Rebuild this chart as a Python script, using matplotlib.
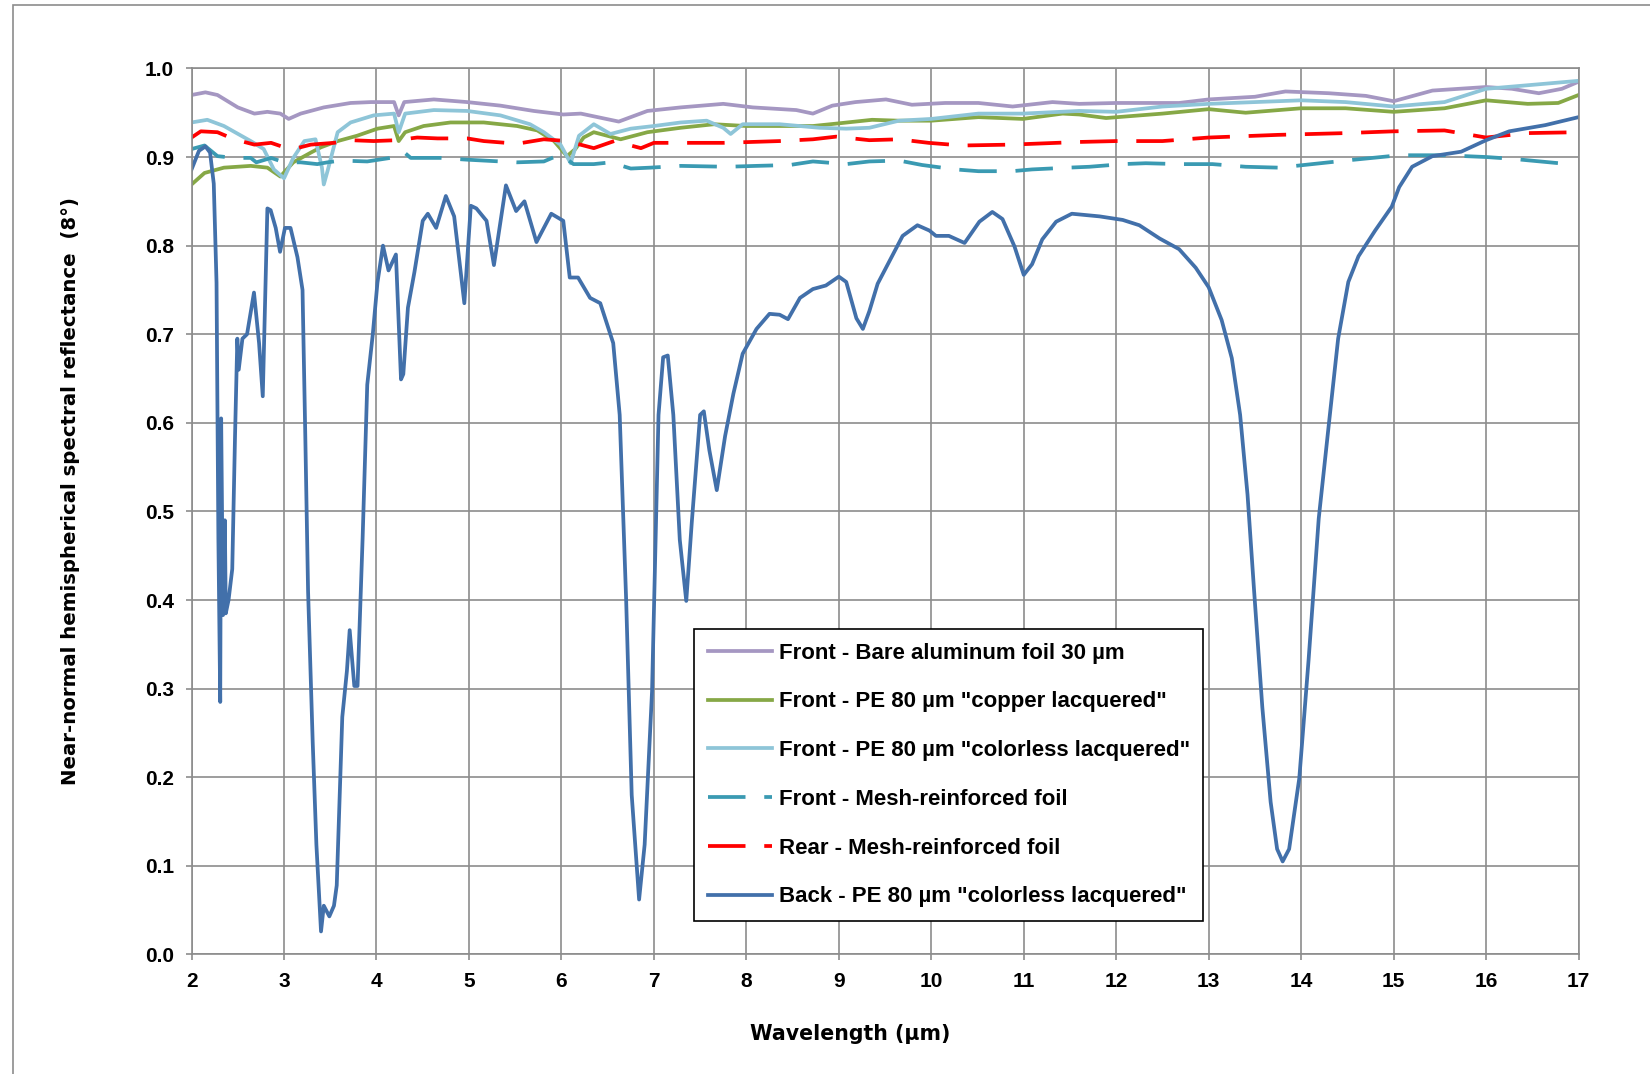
import matplotlib
matplotlib.use('Agg')
import matplotlib.pyplot as plt
from matplotlib.patches import Rectangle

wl_al = [2.0, 2.15, 2.28, 2.5, 2.68, 2.82, 2.96, 3.05, 3.18, 3.43, 3.72, 3.94, 4.19, 4.24, 4.30,
         4.62, 4.98, 5.34, 5.70, 6.02, 6.21, 6.62, 6.93, 7.29, 7.75, 8.07, 8.54, 8.72, 8.93, 9.18,
         9.51, 9.79, 10.15, 10.51, 10.88, 11.31, 11.6, 12.0, 12.68, 13.0, 13.5, 13.83, 14.3,
         14.7, 15.0, 15.42, 16.0, 16.28, 16.57, 16.82, 17.0]
r_al = [0.970, 0.973, 0.970, 0.956, 0.949, 0.951, 0.949, 0.943, 0.949, 0.956, 0.961, 0.962, 0.962,
        0.947, 0.962, 0.965, 0.962, 0.958, 0.952, 0.948, 0.949, 0.940, 0.952, 0.956, 0.960, 0.956,
        0.953, 0.949, 0.958, 0.962, 0.965, 0.959, 0.961, 0.961, 0.957, 0.962, 0.960, 0.961, 0.961,
        0.965, 0.968, 0.974, 0.972, 0.969, 0.963, 0.975, 0.979, 0.977, 0.972, 0.977, 0.985]

wl_cu = [2.0, 2.14, 2.35, 2.64, 2.82, 2.96, 3.1, 3.29, 3.40, 3.58, 3.79, 4.01, 4.19, 4.24, 4.31,
         4.51, 4.8, 5.16, 5.52, 5.74, 5.92, 6.06, 6.15, 6.24, 6.35, 6.64, 6.93, 7.29, 7.65, 8.0,
         8.36, 8.72, 9.0, 9.36, 9.65, 10.0, 10.51, 10.99, 11.42, 11.6, 11.89, 12.5, 13.0, 13.4,
         14.0, 14.48, 15.0, 15.55, 16.0, 16.45, 16.78, 17.0]
r_cu = [0.869, 0.882, 0.888, 0.890, 0.888, 0.878, 0.894, 0.905, 0.911, 0.918, 0.924, 0.932, 0.935,
        0.918, 0.928, 0.935, 0.939, 0.939, 0.935, 0.930, 0.918, 0.901, 0.909, 0.922, 0.928, 0.920,
        0.928, 0.933, 0.937, 0.935, 0.935, 0.935, 0.938, 0.942, 0.941, 0.941, 0.945, 0.943, 0.949,
        0.948, 0.944, 0.949, 0.954, 0.950, 0.955, 0.955, 0.951, 0.955, 0.964, 0.960, 0.961, 0.970]

wl_cl = [2.0, 2.17, 2.35, 2.64, 2.78, 2.89, 3.0, 3.1, 3.22, 3.34, 3.41, 3.43, 3.47, 3.58, 3.72,
         3.97, 4.19, 4.24, 4.31, 4.62, 4.98, 5.34, 5.66, 5.81, 5.99, 6.10, 6.19, 6.24, 6.35, 6.53,
         6.75, 7.0, 7.29, 7.57, 7.75, 7.83, 7.96, 8.36, 8.79, 9.08, 9.33, 9.65, 10.0, 10.51, 10.99,
         11.6, 12.0, 12.5, 13.0, 13.5, 14.0, 14.48, 15.0, 15.55, 16.0, 16.45, 17.0]
r_cl = [0.939, 0.942, 0.935, 0.918, 0.909, 0.886, 0.876, 0.899, 0.918, 0.920, 0.888, 0.869, 0.884,
        0.928, 0.939, 0.947, 0.949, 0.928, 0.949, 0.953, 0.952, 0.947, 0.937, 0.928, 0.914, 0.893,
        0.924, 0.928, 0.937, 0.926, 0.932, 0.935, 0.939, 0.941, 0.933, 0.926, 0.937, 0.937, 0.933,
        0.932, 0.933, 0.941, 0.943, 0.949, 0.949, 0.952, 0.951, 0.957, 0.960, 0.962, 0.964, 0.962,
        0.957, 0.962, 0.977, 0.981, 0.986]

wl_mf = [2.0, 2.14, 2.28, 2.46, 2.64, 2.70, 2.86, 3.0, 3.18, 3.36, 3.47, 3.61, 3.9, 4.15, 4.28,
         4.37, 4.69, 4.98, 5.34, 5.52, 5.81, 5.99, 6.13, 6.35, 6.53, 6.75, 6.96, 7.29, 7.79, 8.11,
         8.47, 8.72, 9.08, 9.33, 9.65, 9.9, 10.26, 10.51, 10.87, 11.09, 11.48, 11.71, 12.07, 12.32,
         12.68, 13.04, 13.4, 13.76, 14.12, 14.48, 14.77, 15.06, 15.55, 16.0, 16.28, 16.89]
r_mf = [0.909, 0.913, 0.901, 0.899, 0.899, 0.894, 0.899, 0.894, 0.894, 0.892, 0.894, 0.896, 0.895,
        0.899, 0.907, 0.899, 0.899, 0.897, 0.895, 0.894, 0.895, 0.903, 0.892, 0.892, 0.894, 0.887,
        0.888, 0.890, 0.889, 0.890, 0.891, 0.895, 0.892, 0.895, 0.896, 0.891, 0.886, 0.884, 0.884,
        0.886, 0.888, 0.889, 0.892, 0.893, 0.892, 0.892, 0.889, 0.888, 0.892, 0.896, 0.899, 0.902,
        0.902, 0.900, 0.898, 0.892]

wl_mr = [2.0, 2.1, 2.28, 2.46, 2.68, 2.86, 3.0, 3.14, 3.29, 3.54, 3.72, 3.97, 4.22, 4.44, 4.66,
         4.98, 5.16, 5.52, 5.81, 6.06, 6.24, 6.35, 6.57, 6.86, 7.0, 7.29, 7.75, 8.36, 8.72, 8.97,
         9.33, 9.65, 9.97, 10.33, 10.87, 11.6, 12.0, 12.5, 13.0, 13.75, 14.48, 15.0, 15.55, 16.0,
         16.45, 17.0]
r_mr = [0.922, 0.929, 0.928, 0.920, 0.914, 0.916, 0.911, 0.910, 0.914, 0.916, 0.919, 0.918, 0.919,
        0.922, 0.921, 0.921, 0.918, 0.915, 0.920, 0.918, 0.913, 0.910, 0.918, 0.910, 0.916, 0.916,
        0.916, 0.918, 0.920, 0.923, 0.919, 0.920, 0.916, 0.913, 0.914, 0.917, 0.918, 0.918, 0.922,
        0.925, 0.927, 0.929, 0.930, 0.922, 0.927, 0.928]

wl_bk = [2.00, 2.08, 2.15, 2.20, 2.24, 2.27, 2.29, 2.31, 2.32, 2.34, 2.36, 2.37, 2.40, 2.44, 2.47,
         2.495, 2.51, 2.55, 2.60, 2.675, 2.73, 2.77, 2.82, 2.855, 2.91, 2.957, 3.01, 3.07, 3.145,
         3.20, 3.23, 3.26, 3.31, 3.35, 3.40, 3.43, 3.49, 3.54, 3.57, 3.63, 3.68, 3.71, 3.76, 3.795,
         3.85, 3.90, 3.96, 4.01, 4.07, 4.13, 4.21, 4.265, 4.29, 4.34, 4.41, 4.50, 4.555, 4.645,
         4.75, 4.84, 4.95, 5.02, 5.08, 5.19, 5.27, 5.40, 5.51, 5.60, 5.73, 5.89, 6.02, 6.09, 6.18,
         6.31, 6.42, 6.56, 6.63, 6.70, 6.76, 6.84, 6.90, 6.98, 7.05, 7.10, 7.15, 7.21, 7.28, 7.35,
         7.41, 7.50, 7.54, 7.60, 7.68, 7.77, 7.86, 7.96, 8.11, 8.25, 8.36, 8.45, 8.58, 8.72, 8.86,
         9.00, 9.08, 9.19, 9.26, 9.33, 9.42, 9.55, 9.69, 9.85, 9.98, 10.05, 10.19, 10.36, 10.52,
         10.66, 10.77, 10.90, 11.00, 11.09, 11.20, 11.35, 11.52, 11.82, 12.07, 12.25, 12.47, 12.68,
         12.86, 13.00, 13.14, 13.25, 13.34, 13.42, 13.49, 13.58, 13.67, 13.74, 13.80, 13.87, 13.98,
         14.08, 14.19, 14.30, 14.40, 14.51, 14.62, 14.80, 14.98, 15.06, 15.20, 15.42, 15.73, 16.00,
         16.25, 16.64, 17.00]
r_bk = [0.886, 0.907, 0.912, 0.905, 0.870, 0.758, 0.470, 0.285, 0.605, 0.383, 0.490, 0.385, 0.400,
        0.435, 0.585, 0.695, 0.660, 0.695, 0.700, 0.747, 0.690, 0.630, 0.842, 0.840, 0.820, 0.793,
        0.820, 0.820, 0.787, 0.750, 0.585, 0.410, 0.240, 0.124, 0.026, 0.055, 0.043, 0.055, 0.078,
        0.268, 0.320, 0.366, 0.303, 0.303, 0.470, 0.643, 0.700, 0.758, 0.800, 0.772, 0.790, 0.649,
        0.655, 0.730, 0.770, 0.828, 0.836, 0.820, 0.856, 0.833, 0.735, 0.845, 0.842, 0.828, 0.778,
        0.868, 0.839, 0.850, 0.804, 0.836, 0.828, 0.764, 0.764, 0.741, 0.735, 0.690, 0.609, 0.400,
        0.180, 0.062, 0.124, 0.297, 0.609, 0.674, 0.676, 0.609, 0.468, 0.399, 0.488, 0.609, 0.613,
        0.569, 0.524, 0.585, 0.633, 0.678, 0.706, 0.723, 0.722, 0.717, 0.741, 0.751, 0.755, 0.765,
        0.759, 0.718, 0.706, 0.726, 0.757, 0.783, 0.811, 0.823, 0.817, 0.811, 0.811, 0.803, 0.827,
        0.838, 0.830, 0.799, 0.767, 0.779, 0.807, 0.827, 0.836, 0.833, 0.829, 0.823, 0.808, 0.796,
        0.775, 0.753, 0.716, 0.673, 0.609, 0.519, 0.412, 0.279, 0.172, 0.119, 0.105, 0.119, 0.199,
        0.332, 0.492, 0.599, 0.695, 0.759, 0.788, 0.817, 0.844, 0.866, 0.889, 0.901, 0.906, 0.919,
        0.929, 0.936, 0.945]

labels = ['Front - Bare aluminum foil 30 \u00b5m',
          'Front - PE 80 \u00b5m "copper lacquered"',
          'Front - PE 80 \u00b5m "colorless lacquered"',
          'Front - Mesh-reinforced foil',
          'Rear - Mesh-reinforced foil',
          'Back - PE 80 \u00b5m "colorless lacquered"']

plt.rcParams['font.family'] = ['Liberation Sans', 'DejaVu Sans']
plt.rcParams['font.weight'] = 'bold'

fig = plt.figure(figsize=(16.5, 10.74), dpi=100)
ax = fig.add_axes([0.1161, 0.1113, 0.8406, 0.8250])

lw = 2.7
ax.plot(wl_al, r_al, color='#A597C2', lw=lw, label=labels[0])
ax.plot(wl_cu, r_cu, color='#86A846', lw=lw, label=labels[1])
ax.plot(wl_cl, r_cl, color='#8EC5D8', lw=lw, label=labels[2])
ax.plot(wl_mf, r_mf, color='#3A9AB2', lw=lw, dashes=(10, 5), label=labels[3])
ax.plot(wl_mr, r_mr, color='#FF0000', lw=lw, dashes=(10, 5), label=labels[4])
ax.plot(wl_bk, r_bk, color='#4270AA', lw=lw, label=labels[5])

ax.set_xlim(2, 17)
ax.set_ylim(0, 1.0)
ax.set_xticks(range(2, 18))
ax.set_yticks([i / 10 for i in range(11)])
ax.set_yticklabels(['%.1f' % (i / 10) for i in range(11)])
ax.grid(True, color='#8C8C8C', lw=1.2)
ax.set_axisbelow(True)
for s in ax.spines.values():
    s.set_color('#8C8C8C')
    s.set_linewidth(1.2)
ax.tick_params(direction='out', length=4.5, width=1.2, color='#8C8C8C',
               labelsize=15, pad=8)
for t in ax.get_xticklabels() + ax.get_yticklabels():
    t.set_fontweight('bold')

ax.set_xlabel('Wavelength (\u00b5m)', fontsize=14.8, fontweight='bold',
              family='DejaVu Sans')
ax.xaxis.set_label_coords(0.475, -0.0897)
ax.xaxis.label.set_va('center')
ax.set_ylabel('Near-normal hemispherical spectral reflectance  (8\u00b0)',
              fontsize=14.2, fontweight='bold', family='DejaVu Sans')
ax.yaxis.set_label_coords(-0.0873, 0.5226)
ax.yaxis.label.set_va('center')

leg = ax.legend(loc='lower left', bbox_to_anchor=(0.3626, 0.038), fontsize=16,
                frameon=True, fancybox=False, framealpha=1, edgecolor='black',
                handlelength=2.9, handletextpad=0.3, labelspacing=1.25,
                borderpad=0.6, borderaxespad=0)
leg.get_frame().set_linewidth(1.2)

# outer chart-area border
fig.patches.append(Rectangle((12.6 / 1650, -0.1), 1.2, 1.1 - 5.3 / 1074,
                             transform=fig.transFigure, fill=False,
                             edgecolor='#8C8C8C', lw=1.2))

fig.savefig('out.png', dpi=100)
